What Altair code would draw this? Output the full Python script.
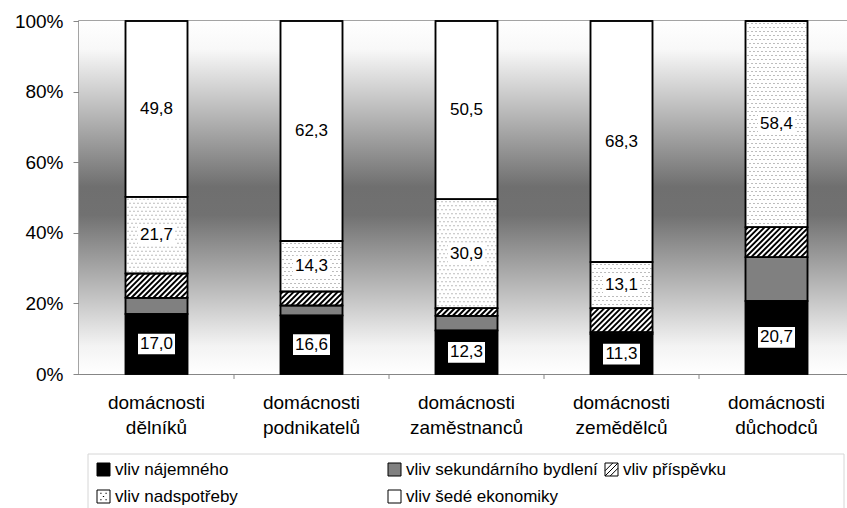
import altair as alt
import pandas as pd

# Household groups (two-line axis labels) and the five stacked components
categories = [
    "domácnosti\ndělníků",
    "domácnosti\npodnikatelů",
    "domácnosti\nzaměstnanců",
    "domácnosti\nzemědělců",
    "domácnosti\ndůchodců",
]
series = [
    "vliv nájemného",
    "vliv sekundárního bydlení",
    "vliv příspěvku",
    "vliv nadspotřeby",
    "vliv šedé ekonomiky",
]

najemne = [17.0, 16.6, 12.3, 11.3, 20.7]
sekundarni = [4.6, 2.8, 4.2, 0.5, 12.4]
prispevek = [6.9, 4.0, 2.1, 6.8, 8.5]
nadspotreba = [21.7, 14.3, 30.9, 13.1, 58.4]
seda = [49.8, 62.3, 50.5, 68.3, 0.0]

labelled = {"vliv nájemného", "vliv nadspotřeby", "vliv šedé ekonomiky"}

FONT = "Liberation Sans, Arial, sans-serif"
AXIS_GREY = "#868686"

# Plot geometry (pixels)
PLOT_W = 768
PLOT_H = 353
STEP = 155
BAR_W = 62
PX_PER_PCT = PLOT_H / 100.0


def hatch_path(h_px, w_px=BAR_W, gap=5.5):
    """Diagonal '/' hatch lines clipped to a w x h box, in symbol units."""
    half = w_px / 2.0
    hh = h_px / 2.0
    r = half
    parts = []
    c = -(half + hh) + gap / 2.0
    while c < half + hh:
        x0 = max(-half, c - hh)
        x1 = min(half, c + hh)
        if x1 - x0 > 0.3:
            parts.append(
                f"M{x0 / r:.3f},{(c - x0) / r:.3f}L{x1 / r:.3f},{(c - x1) / r:.3f}"
            )
        c += gap
    return "".join(parts)


def dot_path(h_px, w_px=BAR_W, sx=4.0, sy=4.0, d=1.0):
    """Staggered grid of small square dots filling a w x h box, in symbol units."""
    half = w_px / 2.0
    hh = h_px / 2.0
    r = half
    parts = []
    row = 0
    y = -hh + sy / 2.0
    while y < hh - 1.0:
        x = -half + (sx / 2.0 if row % 2 == 0 else sx)
        while x < half - 1.0:
            parts.append(
                f"M{x / r:.3f},{y / r:.3f}h{d / r:.3f}v{d / r:.3f}h{-d / r:.3f}z"
            )
            x += sx
        y += sy
        row += 1
    return "".join(parts)


# Legend glyphs (unit square -1..1)
SQUARE = "M-1,-1H1V1H-1Z"
legend_shapes = [
    SQUARE,
    SQUARE,
    SQUARE + "M-1,0.2L0.2,-1M-1,1L1,-1M-0.2,1L1,-0.2",
    SQUARE + "M-0.5,-0.5h0.2M0.3,-0.5h0.2M-0.1,0h0.2M-0.5,0.5h0.2M0.3,0.5h0.2",
    SQUARE,
]
fill_range = ["#000000", "#808080", "#ffffff", "#ffffff", "#ffffff"]

rows = []
columns = [najemne, sekundarni, prispevek, nadspotreba, seda]
for i, cat in enumerate(categories):
    for k, (name, vals) in enumerate(zip(series, columns)):
        v = vals[i]
        h = v * PX_PER_PCT
        rows.append(
            dict(
                cat=cat,
                series=name,
                order=k,
                value=v,
                label=(f"{v:.1f}".replace(".", ",") if name in labelled and v > 0 else ""),
                hatch=(hatch_path(h) if name == "vliv příspěvku" and v > 0 else ""),
                dots=(dot_path(h) if name == "vliv nadspotřeby" and v > 0 else ""),
            )
        )
df = pd.DataFrame(rows)

xscale = alt.Scale(
    domain=categories, range=[0, 5 * STEP], paddingInner=0.6, paddingOuter=0.3
)
yscale = alt.Scale(domain=[0, 1], nice=False)

x_axis = alt.Axis(
    title=None,
    labelExpr="split(datum.label, '\\n')",
    labelAngle=0,
    ticks=False,
    labelFont=FONT,
    labelFontSize=19,
    labelLineHeight=25,
    labelPadding=19,
    labelColor="black",
    domainColor=AXIS_GREY,
    domainWidth=1,
)
y_axis = alt.Axis(
    title=None,
    values=[0, 0.2, 0.4, 0.6, 0.8, 1],
    format=".0%",
    grid=True,
    gridColor="#c8c8c8",
    gridOpacity=0.35,
    tickSize=6,
    tickColor=AXIS_GREY,
    domainColor=AXIS_GREY,
    labelFont=FONT,
    labelFontSize=19,
    labelPadding=10,
    labelColor="black",
)

X = alt.X("cat:N", scale=xscale, sort=categories, axis=x_axis)
Y0 = alt.Y("y0:Q", scale=yscale, axis=y_axis)
YMID = alt.Y("mid:Q", scale=yscale, axis=y_axis)

base = (
    alt.Chart(df)
    .transform_stack(
        stack="value",
        groupby=["cat"],
        as_=["y0", "y1"],
        sort=[alt.SortField("order", order="ascending")],
        offset="normalize",
    )
    .transform_calculate(mid="(datum.y0 + datum.y1) / 2")
)

# Plot-area background: vertical grey gradient, light at top and bottom
background = alt.LinearGradient(
    gradient="linear",
    stops=[
        alt.GradientStop(color="#ffffff", offset=0),
        alt.GradientStop(color="#f8f8f8", offset=0.08),
        alt.GradientStop(color="#6f6f6f", offset=0.47),
        alt.GradientStop(color="#717171", offset=0.55),
        alt.GradientStop(color="#f3f3f3", offset=0.92),
        alt.GradientStop(color="#ffffff", offset=1),
    ],
    x1=0,
    x2=0,
    y1=0,
    y2=1,
)
backdrop = alt.Chart(pd.DataFrame({"k": [0]})).mark_rect(fill=background).encode(
    x=alt.value(0), x2=alt.value(PLOT_W), y=alt.value(0), y2=alt.value(PLOT_H)
)


def legend_column(members, legend_x):
    """Hidden point layer (under the bars) that only supplies one legend column."""
    idx = [series.index(m) for m in members]
    leg = alt.Legend(
        title=None,
        orient="none",
        legendX=legend_x,
        legendY=440,
        direction="vertical",
        rowPadding=9,
        padding=0,
        symbolSize=169,
        symbolStrokeWidth=1,
        labelFont=FONT,
        labelFontSize=17,
        labelColor="black",
        labelLimit=400,
        labelOffset=3,
    )
    return (
        base.transform_filter(alt.FieldOneOfPredicate(field="series", oneOf=members))
        .transform_filter("datum.value > 0")
        .mark_point(filled=True, opacity=1, size=169, strokeWidth=1)
        .encode(
            x=X,
            y=YMID,
            fill=alt.Fill(
                "series:N",
                scale=alt.Scale(domain=members, range=[fill_range[j] for j in idx]),
                legend=leg,
            ),
            shape=alt.Shape(
                "series:N",
                scale=alt.Scale(domain=members, range=[legend_shapes[j] for j in idx]),
                legend=leg,
            ),
            stroke=alt.Stroke(
                "series:N",
                scale=alt.Scale(domain=members, range=["black"] * len(members)),
                legend=leg,
            ),
        )
    )


legend_cols = [
    legend_column(["vliv nájemného", "vliv nadspotřeby"], 16),
    legend_column(["vliv sekundárního bydlení", "vliv šedé ekonomiky"], 307),
    legend_column(["vliv příspěvku"], 524),
]

bars = base.mark_bar(stroke="black", strokeWidth=1.5).encode(
    x=X,
    y=Y0,
    y2="y1:Q",
    fill=alt.Fill("series:N", scale=alt.Scale(domain=series, range=fill_range), legend=None),
)

hatch = base.transform_filter("datum.hatch != ''").mark_point(
    filled=False, stroke="black", strokeWidth=2, opacity=1, size=BAR_W * BAR_W
).encode(
    x=X,
    y=YMID,
    shape=alt.Shape("hatch:N", scale=None, legend=None),
)

dots = base.transform_filter("datum.dots != ''").mark_point(
    filled=True, fill="#7a7a7a", strokeWidth=0, opacity=1, size=BAR_W * BAR_W
).encode(
    x=X,
    y=YMID,
    shape=alt.Shape("dots:N", scale=None, legend=None),
)

outline = base.mark_bar(fill="transparent", stroke="black", strokeWidth=1.5).encode(
    x=X, y=Y0, y2="y1:Q"
)

label_boxes = base.transform_filter("datum.label != ''").mark_point(
    filled=True,
    fill="white",
    strokeWidth=0,
    opacity=1,
    size=37 * 37,
    shape="M-1,-0.56H1V0.56H-1Z",
).encode(x=X, y=YMID)

labels = base.transform_filter("datum.label != ''").mark_text(
    font=FONT, fontSize=17, color="black", align="center", baseline="middle"
).encode(x=X, y=YMID, text="label:N")

# Category separator ticks under the x axis (right edge of each category slot)
sep_ticks = alt.Chart(pd.DataFrame({"cat": categories})).mark_rule(
    color=AXIS_GREY, strokeWidth=1, y2Offset=5, xOffset=(STEP - BAR_W) / 2.0
).encode(
    x=alt.X("cat:N", scale=xscale, sort=categories, bandPosition=1, axis=x_axis),
    y=alt.datum(0),
    y2=alt.datum(0),
)

legend_frame = alt.Chart(pd.DataFrame({"k": [0]})).mark_rect(
    fill="transparent", stroke="#d6d6d6", strokeWidth=1
).encode(
    x=alt.value(9), x2=alt.value(765), y=alt.value(433), y2=alt.value(520)
)

chart = (
    alt.layer(
        backdrop,
        *legend_cols,
        bars,
        hatch,
        dots,
        outline,
        label_boxes,
        labels,
        sep_ticks,
        legend_frame,
    )
    .resolve_scale(fill="independent", shape="independent", stroke="independent")
    .properties(
        width=PLOT_W,
        height=PLOT_H,
        autosize=alt.AutoSizeParams(type="none"),
        padding={"left": 79, "top": 21, "right": 0, "bottom": 134},
        background="white",
    )
    .configure_view(stroke=AXIS_GREY, strokeWidth=1.5)
)

chart.save("out.html", embed_options={"renderer": "svg", "actions": False})
